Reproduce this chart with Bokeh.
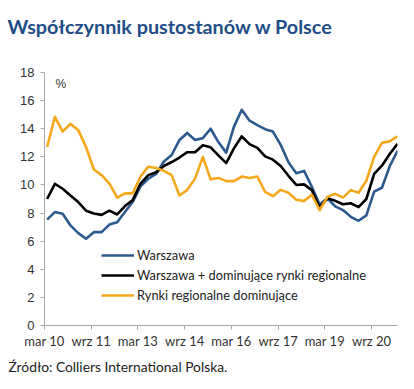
import numpy as np
from bokeh.plotting import figure
from bokeh.models import Range1d, FixedTicker, Legend, LegendItem, Label, ColumnDataSource, Title
from bokeh.embed import file_html
from bokeh.resources import INLINE

# Quarterly data, Q1 2010 .. Q2 2021 (46 quarters)
warszawa = [7.53, 8.07, 7.95, 7.12, 6.57, 6.17, 6.64, 6.64, 7.18, 7.35,
            8.07, 8.8, 9.9, 10.44, 10.78, 11.67, 12.13, 13.2, 13.7, 13.2,
            13.33, 14.0, 13.05, 12.3, 14.15, 15.35, 14.57, 14.25, 13.97, 13.8,
            12.85, 11.62, 10.84, 11.0, 9.87, 8.6, 9.05, 8.48, 8.21, 7.73,
            7.45, 7.83, 9.52, 9.8, 11.33, 12.43]
warszawa_reg = [9.0, 10.08, 9.73, 9.25, 8.78, 8.17, 7.97, 7.87, 8.17, 7.9,
                8.5, 8.92, 10.1, 10.7, 10.9, 11.35, 11.63, 11.95, 12.33, 12.33,
                12.83, 12.68, 12.1, 11.55, 12.6, 13.46, 12.9, 12.64, 12.03, 11.8,
                11.35, 10.65, 10.0, 10.04, 9.63, 8.4, 9.05, 8.87, 8.63, 8.7,
                8.42, 9.0, 10.78, 11.37, 12.2, 12.93]
regionalne = [12.7, 14.85, 13.8, 14.35, 13.9, 12.7, 11.1, 10.7, 10.1, 9.1,
              9.4, 9.4, 10.6, 11.3, 11.2, 11.0, 10.7, 9.25, 9.65, 10.45,
              12.0, 10.4, 10.5, 10.27, 10.27, 10.6, 10.5, 10.6, 9.5, 9.2,
              9.65, 9.45, 8.95, 8.85, 9.3, 8.2, 9.15, 9.37, 9.1, 9.63,
              9.44, 10.3, 12.0, 13.0, 13.1, 13.46]

series_names = ["Warszawa",
                "Warszawa + dominujące rynki regionalne",
                "Rynki regionalne dominujące"]
series_colors = ["#2d5a8e", "#000000", "#f5a81c"]

# months since Jan 2010 (0 = Jan 2010); tick labels
tick_months = [2, 20, 38, 56, 74, 92, 110, 128]
tick_labels = ["mar 10", "wrz 11", "mar 13", "wrz 14", "mar 16", "wrz 17", "mar 19", "wrz 20"]
y_ticks = list(range(0, 19, 2))

n = len(warszawa)
x = 3 + 3 * np.arange(n)  # end of each quarter

p = figure(width=414, height=389, output_backend="svg", toolbar_location=None,
           x_range=Range1d(2, 138), y_range=Range1d(0, 18),
           min_border_left=44, min_border_right=17, min_border_top=72, min_border_bottom=64)
p.outline_line_color = None
p.xgrid.grid_line_color = None
p.ygrid.grid_line_color = None
p.background_fill_color = "white"
p.border_fill_color = "white"

p.title.text = "Współczynnik pustostanów w Polsce"
p.title.align = "left"
p.title.offset = -37
p.title.standoff = 0
p.title.vertical_align = "bottom"
p.title.text_font = "Lato"
p.title.text_font_style = "bold"
p.title.text_font_size = "19.8px"
p.title.text_color = "#1f4d87"

# spacer between title and plot area
p.add_layout(Title(text=" ", text_font_size="1px", standoff=32), "above")

renderers = []
for vals, c in zip([warszawa, warszawa_reg, regionalne], series_colors):
    src = ColumnDataSource(dict(x=x, y=vals))
    r = p.line("x", "y", source=src, line_color=c, line_width=2.6, line_join="round")
    renderers.append(r)

# axes
ax = p.xaxis[0]
ax.ticker = FixedTicker(ticks=tick_months)
ax.major_label_overrides = {m: l for m, l in zip(tick_months, tick_labels)}
ax.axis_line_color = "#a6a6a6"
ax.major_tick_line_color = "#a6a6a6"
ax.major_tick_out = 4
ax.major_tick_in = 0
ax.minor_tick_line_color = None
ax.major_label_text_font = "Lato"
ax.major_label_text_font_size = "13px"
ax.major_label_text_color = "#333333"
ax.major_label_standoff = 3

ay = p.yaxis[0]
ay.ticker = FixedTicker(ticks=y_ticks)
ay.axis_line_color = "#a6a6a6"
ay.major_tick_line_color = "#a6a6a6"
ay.major_tick_out = 4
ay.major_tick_in = 0
ay.minor_tick_line_color = None
ay.major_label_text_font = "Liberation Sans"
ay.major_label_text_font_size = "13px"
ay.major_label_text_color = "#333333"
ay.major_label_standoff = 6

legend = Legend(items=[LegendItem(label=nm, renderers=[r]) for nm, r in zip(series_names, renderers)],
                location=(57, 20), orientation="vertical",
                padding=0, margin=0, spacing=0, glyph_width=33, glyph_height=20,
                label_height=20, label_standoff=3,
                label_text_font="Lato", label_text_font_size="12.8px", label_text_color="#222222",
                border_line_color=None, background_fill_alpha=0)
p.add_layout(legend, "center")

p.add_layout(Label(x=11, y=242, x_units="screen", y_units="screen", text="%",
                   text_font="Liberation Sans", text_font_size="12px", text_color="#333333",
                   text_baseline="alphabetic"))
p.add_layout(Title(text="Źródło: Colliers International Polska.", align="left", offset=-36,
                   standoff=9, text_font="Lato", text_font_style="normal",
                   text_font_size="13.8px", text_color="#222222"), "below")

open("out.html", "w").write(file_html(p, INLINE))
